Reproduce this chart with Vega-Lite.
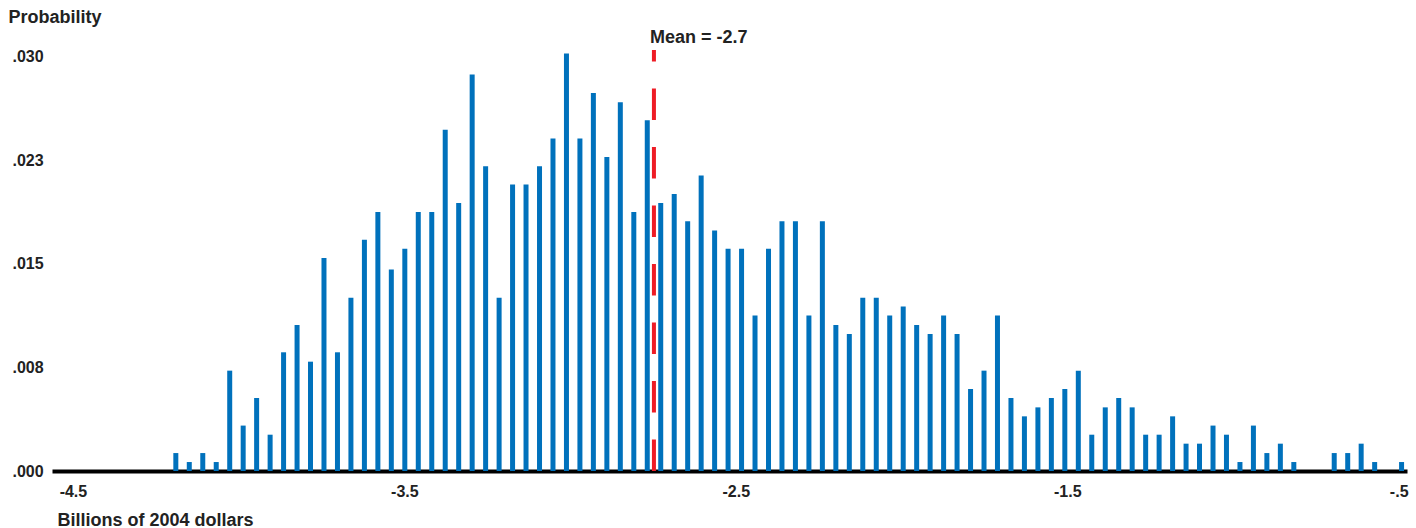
{
  "$schema": "https://vega.github.io/schema/vega-lite/v6.json",
  "width": 1355,
  "height": 421,
  "autosize": {"type": "none"},
  "padding": {"left": 52, "top": 50, "right": 9, "bottom": 57},
  "background": "white",
  "config": {
    "view": {"stroke": null},
    "font": "Liberation Sans",
    "axis": {"grid": false, "labelFont": "Liberation Sans", "titleFont": "Liberation Sans", "labelFontWeight": "bold", "titleFontWeight": "bold", "labelColor": "#222222", "titleColor": "#222222"}
  },
  "datasets": {
    "bins": [
      {"value": -4.1895, "probability": 0.0013},
      {"value": -4.1489, "probability": 0.00065},
      {"value": -4.1082, "probability": 0.0013},
      {"value": -4.0676, "probability": 0.00065},
      {"value": -4.0269, "probability": 0.00727},
      {"value": -3.9863, "probability": 0.00329},
      {"value": -3.9457, "probability": 0.00529},
      {"value": -3.9050, "probability": 0.00263},
      {"value": -3.8644, "probability": 0.0086},
      {"value": -3.8237, "probability": 0.01058},
      {"value": -3.7831, "probability": 0.00792},
      {"value": -3.7425, "probability": 0.01543},
      {"value": -3.7018, "probability": 0.0086},
      {"value": -3.6612, "probability": 0.01256},
      {"value": -3.6205, "probability": 0.01676},
      {"value": -3.5799, "probability": 0.01877},
      {"value": -3.5393, "probability": 0.01459},
      {"value": -3.4986, "probability": 0.01611},
      {"value": -3.4580, "probability": 0.01877},
      {"value": -3.4173, "probability": 0.01877},
      {"value": -3.3767, "probability": 0.02473},
      {"value": -3.3361, "probability": 0.01942},
      {"value": -3.2954, "probability": 0.02872},
      {"value": -3.2548, "probability": 0.02208},
      {"value": -3.2141, "probability": 0.01256},
      {"value": -3.1735, "probability": 0.02075},
      {"value": -3.1329, "probability": 0.02075},
      {"value": -3.0922, "probability": 0.02208},
      {"value": -3.0516, "probability": 0.02408},
      {"value": -3.0109, "probability": 0.03024},
      {"value": -2.9703, "probability": 0.02408},
      {"value": -2.9297, "probability": 0.02739},
      {"value": -2.8890, "probability": 0.02275},
      {"value": -2.8484, "probability": 0.02671},
      {"value": -2.8077, "probability": 0.01877},
      {"value": -2.7671, "probability": 0.02541},
      {"value": -2.7265, "probability": 0.01942},
      {"value": -2.6858, "probability": 0.02007},
      {"value": -2.6452, "probability": 0.01809},
      {"value": -2.6045, "probability": 0.0214},
      {"value": -2.5639, "probability": 0.01742},
      {"value": -2.5233, "probability": 0.01611},
      {"value": -2.4826, "probability": 0.01611},
      {"value": -2.4420, "probability": 0.01126},
      {"value": -2.4013, "probability": 0.01611},
      {"value": -2.3607, "probability": 0.01809},
      {"value": -2.3201, "probability": 0.01809},
      {"value": -2.2794, "probability": 0.01126},
      {"value": -2.2388, "probability": 0.01809},
      {"value": -2.1981, "probability": 0.01058},
      {"value": -2.1575, "probability": 0.00993},
      {"value": -2.1169, "probability": 0.01256},
      {"value": -2.0762, "probability": 0.01256},
      {"value": -2.0356, "probability": 0.01126},
      {"value": -1.9949, "probability": 0.01191},
      {"value": -1.9543, "probability": 0.01058},
      {"value": -1.9137, "probability": 0.00993},
      {"value": -1.8730, "probability": 0.01126},
      {"value": -1.8324, "probability": 0.00993},
      {"value": -1.7917, "probability": 0.00594},
      {"value": -1.7511, "probability": 0.00727},
      {"value": -1.7105, "probability": 0.01126},
      {"value": -1.6698, "probability": 0.00529},
      {"value": -1.6292, "probability": 0.00396},
      {"value": -1.5885, "probability": 0.00461},
      {"value": -1.5479, "probability": 0.00529},
      {"value": -1.5073, "probability": 0.00594},
      {"value": -1.4666, "probability": 0.00727},
      {"value": -1.4260, "probability": 0.00263},
      {"value": -1.3853, "probability": 0.00461},
      {"value": -1.3447, "probability": 0.00529},
      {"value": -1.3041, "probability": 0.00461},
      {"value": -1.2634, "probability": 0.00263},
      {"value": -1.2228, "probability": 0.00263},
      {"value": -1.1821, "probability": 0.00396},
      {"value": -1.1415, "probability": 0.00198},
      {"value": -1.1009, "probability": 0.00198},
      {"value": -1.0602, "probability": 0.00329},
      {"value": -1.0196, "probability": 0.00263},
      {"value": -0.9789, "probability": 0.00065},
      {"value": -0.9383, "probability": 0.00329},
      {"value": -0.8977, "probability": 0.0013},
      {"value": -0.8570, "probability": 0.00198},
      {"value": -0.8164, "probability": 0.00065},
      {"value": -0.6945, "probability": 0.0013},
      {"value": -0.6538, "probability": 0.0013},
      {"value": -0.6132, "probability": 0.00198},
      {"value": -0.5725, "probability": 0.00065},
      {"value": -0.4913, "probability": 0.00065}
    ],
    "mean": [{"mean": -2.747, "label": "Mean = -2.7"}]
  },
  "layer": [
    {
      "data": {"name": "bins"},
      "mark": {"type": "bar", "size": 5, "color": "#0071bc"},
      "encoding": {
        "x": {
          "field": "value", "type": "quantitative",
          "scale": {"domain": [-4.548, -0.49], "nice": false, "zero": false},
          "axis": {
            "values": [-4.5, -3.5, -2.5, -1.5, -0.5],
            "labelExpr": "datum.value == -4.5 ? '-4.5' : datum.value == -3.5 ? '-3.5' : datum.value == -2.5 ? '-2.5' : datum.value == -1.5 ? '-1.5' : '-.5'",
            "ticks": false,
            "domainColor": "#000000",
            "domainWidth": 4,
            "labelFontSize": 16,
            "labelPadding": 12,
            "labelFlush": false,
            "title": "Billions of 2004 dollars",
            "titleFontSize": 18,
            "titleAlign": "left",
            "titleAnchor": "start",
            "titleBaseline": "middle",
            "titleX": 5,
            "titleY": 49
          }
        },
        "y": {
          "field": "probability", "type": "quantitative",
          "scale": {"domain": [0, 0.0305], "nice": false},
          "axis": {
            "values": [0, 0.0075, 0.015, 0.0225, 0.03],
            "labelExpr": "datum.value < 0.001 ? '.000' : datum.value < 0.01 ? '.008' : datum.value < 0.02 ? '.015' : datum.value < 0.025 ? '.023' : '.030'",
            "domain": false,
            "ticks": false,
            "labelAlign": "left",
            "labelBaseline": "middle",
            "labelPadding": 40,
            "labelFontSize": 16,
            "title": "Probability",
            "titleFontSize": 18,
            "titleAngle": 0,
            "titleAlign": "left",
            "titleBaseline": "middle",
            "titleX": -44,
            "titleY": -33
          }
        }
      }
    },
    {
      "data": {"name": "mean"},
      "mark": {"type": "rule", "color": "#ee1c25", "strokeWidth": 4, "strokeDash": [31.5, 27]},
      "encoding": {
        "x": {"field": "mean", "type": "quantitative"},
        "y": {"datum": 0},
        "y2": {"datum": 0.0305}
      }
    },
    {
      "data": {"name": "mean"},
      "mark": {"type": "text", "align": "left", "baseline": "middle", "dx": -4, "dy": -12, "font": "Liberation Sans", "fontWeight": "bold", "fontSize": 18, "color": "#222222"},
      "encoding": {
        "x": {"field": "mean", "type": "quantitative"},
        "y": {"datum": 0.0305},
        "text": {"field": "label"}
      }
    }
  ]
}
